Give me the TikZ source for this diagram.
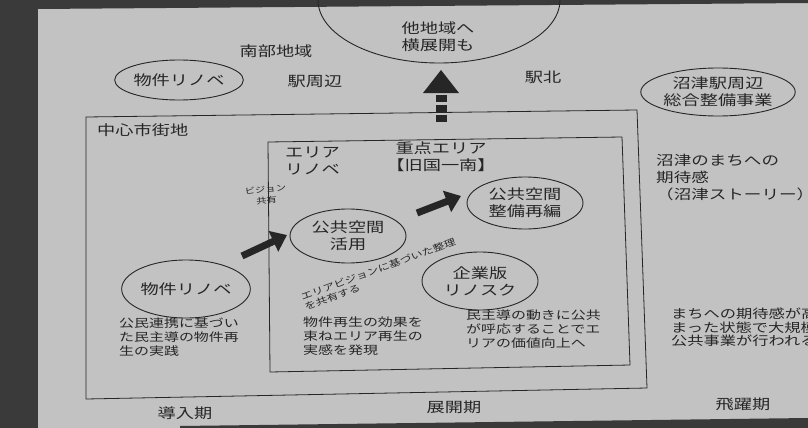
\documentclass[tikz,border=0pt]{standalone}
\usepackage{fontspec}
\newfontfamily\jp[FakeStretch=1.3]{Noto Sans CJK JP}
\usetikzlibrary{arrows.meta,shapes.geometric}
\definecolor{paper}{HTML}{C2C2C2}
\definecolor{ink}{HTML}{262626}
\definecolor{scan}{HTML}{3A3A3A}
\tikzset{
  ell/.style={ellipse, draw=ink, line width=0.9pt, inner sep=0pt, align=center, text=ink},
  lbl/.style={text=ink, inner sep=0pt},
  desc/.style={text=ink, inner sep=0pt, align=left, anchor=north west, font=\jp\fontsize{11.5}{14}\selectfont},
  frame/.style={draw=ink, line width=0.8pt},
  blockarrow/.style={draw=ink, line width=7pt, -{Triangle[width=22pt,length=15pt]}},
}
\begin{document}
\begin{tikzpicture}[x=1pt,y=-1pt,font=\jp\fontsize{14}{17}\selectfont]
\useasboundingbox (0,0) rectangle (808,428);
\clip (0,0) rectangle (808,428);
% scanned paper background
\fill[paper] (0,0) rectangle (808,428);
\fill[scan] (0,0) rectangle (38,428);
\fill[scan] (38,0) -- (38,9) -- (808,3) -- (808,0) -- cycle;
\fill[scan] (38,428) -- (180,428) -- (180,426) -- (808,418) -- (808,428) -- cycle;

% frames (slightly skewed like the scan)
\coordinate (oTL) at (86,117);
\coordinate (oTR) at (637,110);
\coordinate (oBR) at (647,388);
\coordinate (oBL) at (86,399);
\draw[frame] (oTL) -- (oTR) -- (oBR) -- (oBL) -- cycle;
\coordinate (iTL) at (268,142);
\coordinate (iTR) at (622,137);
\coordinate (iBR) at (630,365);
\coordinate (iBL) at (270,372);
\draw[frame] (iTL) -- (iTR) -- (iBR) -- (iBL) -- cycle;

% top ellipse
\node[ell, minimum width=242pt, minimum height=126pt] (other) at (439,0) {};
\node[lbl, align=center] (othertxt) at (438,37) {他地域へ\\横展開も};

% upper labels
\node[lbl] (south) at (276,51) {南部地域};
\node[ell, minimum width=122pt, minimum height=40pt] (rinoA) at (179,80) {物件リノベ};
\node[lbl] (station) at (315,81) {駅周辺};
\node[lbl] (north) at (543,77) {駅北};
\node[ell, minimum width=124pt, minimum height=48pt] (numazu) at (718,92) {沼津駅周辺\\総合整備事業};

% inside frames
\node[lbl, anchor=west] (cbd) at (97,130) {中心市街地};
\node[lbl, align=left, anchor=north west] (arearino) at (285,147) {エリア\\リノベ};
\node[lbl, align=center] (focustxt) at (441,157) {重点エリア\\【旧国一南】};
\node[lbl, align=center, font=\jp\fontsize{8}{11}\selectfont, rotate=6] (vision) at (266,195) {ビジョン\\共有};

\node[ell, minimum width=116pt, minimum height=54pt] (pubuse) at (348,236) {公共空間\\活用};
\node[ell, minimum width=116pt, minimum height=52pt] (pubre) at (525,203) {公共空間\\整備再編};
\node[ell, minimum width=116pt, minimum height=58pt] (corp) at (480,281) {企業版\\リノスク};
\node[ell, minimum width=122pt, minimum height=58pt] (rinoB) at (186,289) {物件リノベ};

\node[lbl, align=left, rotate=20, font=\jp\fontsize{9}{11}\selectfont] (rot) at (380,274) {エリアビジョンに基づいた整理\\を共有する};

% block arrows
\coordinate (a1s) at (242,256);
\coordinate (a1e) at (287,235);
\draw[blockarrow] (a1s) -- (a1e);
\coordinate (a2s) at (417,213);
\coordinate (a2e) at (461,196);
\draw[blockarrow] (a2s) -- (a2e);
\coordinate (upS) at (441,122);
\coordinate (upE) at (441,95);
\draw[ink, line width=11pt, dash pattern=on 7pt off 3pt] (upS) -- (upE);
\fill[ink] (423,93) -- (459,93) -- (441,70) -- cycle;

% descriptions
\node[desc] (d1) at (119,318) {公民連携に基づい\\た民主導の物件再\\生の実践};
\node[desc] (d2) at (303,317) {物件再生の効果を\\束ねエリア再生の\\実感を発現};
\node[desc] (d3) at (466,310) {民主導の動きに公共\\が呼応することでエ\\リアの価値向上へ};
\node[desc, font=\jp\fontsize{12.5}{13.5}\selectfont] (d4) at (671,308) {まちへの期待感が高\\まった状態で大規模\\公共事業が行われる};
\node[desc, font=\jp\fontsize{13.5}{17}\selectfont] (d5) at (656,154) {沼津のまちへの\\期待感\\（沼津ストーリー）};

% phases
\node[lbl] (p1) at (185,413) {導入期};
\node[lbl] (p2) at (454,407) {展開期};
\node[lbl] (p3) at (743,404) {飛躍期};
\end{tikzpicture}
\end{document}
